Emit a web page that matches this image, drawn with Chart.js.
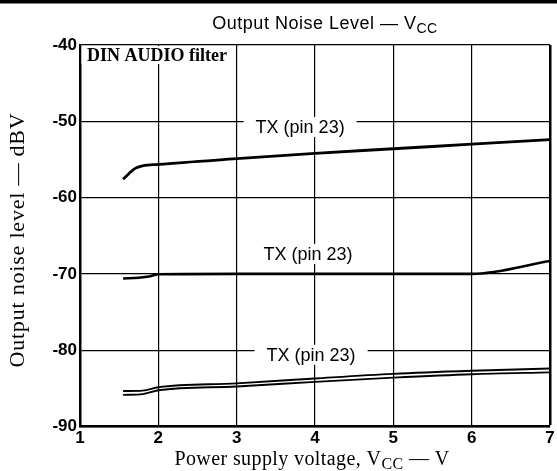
<!DOCTYPE html>
<html>
<head>
<meta charset="utf-8">
<script src="https://cdn.jsdelivr.net/npm/chart.js@4/dist/chart.umd.min.js"></script>
<style>
  html, body { margin: 0; padding: 0; background: #fff; }
  canvas { display: block; }
</style>
</head>
<body>
<canvas id="noiseChart" width="557" height="471"></canvas>
<script>
// Values (Vcc in volts, noise in dBV)
const vccTop = [1.55, 1.62, 1.7, 1.8, 2, 3, 4, 5, 6, 7];
const noiseTop = [-57.6, -56.9, -56.2, -55.85, -55.65, -54.9, -54.2, -53.6, -53.0, -52.4];

const vccMid = [1.55, 1.75, 1.9, 2, 3, 4, 5, 6, 7];
const noiseMid = [-70.6, -70.5, -70.3, -70.05, -70, -70, -70, -70, -68.3];

const vccLow = [1.55, 1.8, 2, 3, 4, 5, 6, 7];
const noiseLowUpper = [-85.35, -85.3, -84.85, -84.35, -83.7, -83.1, -82.7, -82.4];
const noiseLowLower = [-85.85, -85.75, -85.25, -84.75, -84.15, -83.6, -83.15, -82.9];

const xTicks = [1, 2, 3, 4, 5, 6, 7];
const yTicks = [-90, -80, -70, -60, -50, -40];

// curve labels, placed in data coordinates
const noteText = 'TX (pin 23)';
const noteX = [3.81, 3.91, 3.95];
const noteY = [-50.75, -67.4, -80.6];

const SANS = '"Liberation Sans", Arial, sans-serif';
const SERIF = '"Liberation Serif", "Times New Roman", serif';

function pts(xs, ys) {
    return xs.map((x, i) => ({ x: x, y: ys[i] }));
}

function curve(xs, ys, width) {
    return {
        data: pts(xs, ys),
        borderColor: '#000',
        borderWidth: width,
        pointRadius: 0,
        fill: false,
        cubicInterpolationMode: 'monotone'
    };
}

// draws text made of [string, isSubscript] pieces
function drawSub(ctx, parts, cx, baseline, size, family, spacing) {
    const subSize = Math.round(size * 0.78);
    ctx.letterSpacing = spacing + 'px';
    let total = 0;
    parts.forEach(p => {
        ctx.font = (p[1] ? subSize : size) + 'px ' + family;
        total += ctx.measureText(p[0]).width;
    });
    let x = cx - total / 2;
    ctx.textAlign = 'left';
    ctx.textBaseline = 'alphabetic';
    parts.forEach(p => {
        ctx.font = (p[1] ? subSize : size) + 'px ' + family;
        ctx.fillText(p[0], x, baseline + (p[1] ? size * 0.22 : 0));
        x += ctx.measureText(p[0]).width;
    });
    ctx.letterSpacing = '0px';
}

const decorations = {
    id: 'decorations',
    afterDraw(chart) {
        const ctx = chart.ctx;
        const xs = chart.scales.x, ys = chart.scales.y;
        ctx.save();
        ctx.fillStyle = '#000';

        // heavy rule along the top edge
        ctx.fillRect(0, 0, chart.width, 3.5);

        drawSub(ctx, [['Output Noise Level \u2014 V', false], ['CC', true]], 325, 29, 18, SANS, 0.5);

        // filter note in the top-left corner
        ctx.fillStyle = '#fff';
        ctx.fillRect(xs.left + 1.5, ys.top + 1, 152, 18);
        ctx.fillStyle = '#000';
        ctx.font = 'bold 18px ' + SERIF;
        ctx.textAlign = 'left';
        ctx.textBaseline = 'alphabetic';
        ctx.fillText('DIN AUDIO filter', xs.left + 7, ys.top + 16);

        // curve labels with white boxes that cut the grid
        ctx.font = '18px ' + SANS;
        noteX.forEach((v, i) => {
            const px = xs.getPixelForValue(v);
            const py = ys.getPixelForValue(noteY[i]);
            const w = ctx.measureText(noteText).width;
            ctx.fillStyle = '#fff';
            ctx.fillRect(px - w / 2 - 12, py - 10, w + 24, 20);
            ctx.fillStyle = '#000';
            ctx.textAlign = 'center';
            ctx.textBaseline = 'middle';
            ctx.fillText(noteText, px, py + 1);
        });

        // axis titles
        ctx.save();
        ctx.translate(18, 240);
        ctx.rotate(-Math.PI / 2);
        ctx.font = '22px ' + SERIF;
        ctx.letterSpacing = '0.8px';
        ctx.textAlign = 'center';
        ctx.textBaseline = 'middle';
        ctx.fillText('Output noise level \u2014 dBV', 0, 0);
        ctx.restore();

        drawSub(ctx, [['Power supply voltage, V', false], ['CC', true], [' \u2014 V', false]], 312, 465, 20, SERIF, 0.4);
        ctx.restore();
    }
};

new Chart(document.getElementById('noiseChart'), {
    type: 'line',
    data: {
        datasets: [
            curve(vccTop, noiseTop, 2.8),
            curve(vccMid, noiseMid, 2.6),
            curve(vccLow, noiseLowUpper, 1.9),
            curve(vccLow, noiseLowLower, 1.9)
        ]
    },
    options: {
        responsive: false,
        animation: false,
        devicePixelRatio: 1,
        layout: { padding: { top: 45, right: 7, left: 0, bottom: 0 } },
        plugins: { legend: { display: false }, tooltip: { enabled: false } },
        scales: {
            x: {
                type: 'linear',
                min: xTicks[0],
                max: xTicks[xTicks.length - 1],
                afterBuildTicks: s => { s.ticks = xTicks.map(v => ({ value: v })); },
                ticks: { color: '#000', font: { family: SANS, size: 17, weight: 'bold' }, padding: 2, maxRotation: 0 },
                grid: {
                    color: '#000',
                    drawTicks: false,
                    lineWidth: c => (c.tick && c.tick.value === 7 ? 2.5 : 1.2)
                },
                border: { color: '#000', width: 2.5 },
                afterFit: s => { s.height = 44.5; }
            },
            y: {
                min: yTicks[0],
                max: yTicks[yTicks.length - 1],
                afterBuildTicks: s => { s.ticks = yTicks.map(v => ({ value: v })); },
                ticks: { color: '#000', font: { family: SANS, size: 17, weight: 'bold' }, padding: 3 },
                grid: { color: '#000', drawTicks: false, lineWidth: 1.2 },
                border: { color: '#000', width: 2.5 },
                afterFit: s => { s.width = 80; }
            }
        }
    },
    plugins: [decorations]
});
</script>
</body>
</html>
